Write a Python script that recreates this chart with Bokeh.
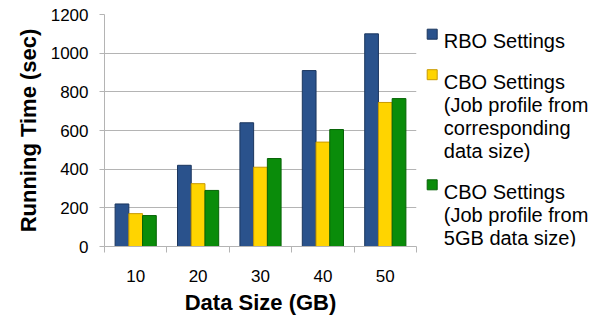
from bokeh.plotting import figure
from bokeh.models import ColumnDataSource, Range1d, FixedTicker
from bokeh.layouts import row
from bokeh.transform import dodge
from bokeh.core.properties import value
from bokeh.embed import file_html
from bokeh.resources import INLINE

# ---- data ----
categories = ["10", "20", "30", "40", "50"]
rbo = [220, 420, 640, 910, 1100]
cbo_corr = [170, 325, 410, 540, 745]
cbo_5gb = [160, 290, 455, 605, 765]
y_ticks = [0, 200, 400, 600, 800, 1000, 1200]
series_names = [
    "RBO Settings",
    "CBO Settings\n(Job profile from\ncorresponding\ndata size)",
    "CBO Settings\n(Job profile from\n5GB data size)",
]
x_title = "Data Size (GB)"
y_title = "Running Time (sec)"

# ---- styles ----
FONT = "Liberation Sans"
fills = ["#2a528c", "#ffd400", "#0a8c0a"]
edges = ["#1b365e", "#c99a00", "#066306"]
GRID = "#b4b4b4"
BAR_W = 0.22

W_TOTAL, H_TOTAL = 615, 319
CHART_W = 418
TOP, BOTTOM = 14, 73

centers = [i + 0.5 for i in range(len(categories))]
bounds = [float(i) for i in range(len(categories) + 1)]

src = ColumnDataSource(dict(x=centers, rbo=rbo, cc=cbo_corr, c5=cbo_5gb))

p = figure(width=CHART_W, height=H_TOTAL, output_backend="svg", toolbar_location=None,
           x_range=Range1d(0, len(categories)), y_range=Range1d(y_ticks[0], y_ticks[-1]),
           min_border_left=104, min_border_right=2, min_border_top=TOP, min_border_bottom=BOTTOM)

for col, off, fc, ec in zip(["rbo", "cc", "c5"], [-BAR_W, 0.0, BAR_W], fills, edges):
    p.vbar(x=dodge("x", off, range=p.x_range), top=col, bottom=0, width=BAR_W,
           source=src, fill_color=fc, line_color=ec, line_width=1)

p.outline_line_color = None
p.xgrid.grid_line_color = None
p.ygrid.grid_line_color = GRID
p.ygrid.grid_line_width = 1

# x axis
xa = p.xaxis[0]
xa.ticker = FixedTicker(ticks=centers, minor_ticks=bounds)
xa.major_label_overrides = {c: lab for c, lab in zip(centers, categories)}
xa.major_tick_line_color = None
xa.major_tick_out = 0
xa.major_tick_in = 0
xa.minor_tick_line_color = GRID
xa.minor_tick_out = 6
xa.minor_tick_in = 0
xa.axis_line_color = GRID
xa.major_label_text_font = FONT
xa.major_label_text_font_size = "17px"
xa.major_label_text_color = "black"
xa.major_label_standoff = 17
xa.axis_label = x_title
xa.axis_label_text_font = FONT
xa.axis_label_text_font_style = "bold"
xa.axis_label_text_font_size = "22px"
xa.axis_label_text_color = "black"
xa.axis_label_standoff = 5

# y axis
ya = p.yaxis[0]
ya.ticker = FixedTicker(ticks=y_ticks)
ya.major_tick_line_color = GRID
ya.major_tick_out = 5
ya.major_tick_in = 0
ya.minor_tick_line_color = None
ya.axis_line_color = GRID
ya.major_label_text_font = FONT
ya.major_label_text_font_size = "17px"
ya.major_label_text_color = "black"
ya.major_label_standoff = 11
ya.axis_label = y_title
ya.axis_label_text_font = FONT
ya.axis_label_text_font_style = "bold"
ya.axis_label_text_font_size = "22px"
ya.axis_label_text_color = "black"
ya.axis_label_standoff = 7

# ---- legend panel (its frame is aligned with the chart frame; data units = page pixels) ----
LW = W_TOTAL - CHART_W
lg = figure(width=LW, height=H_TOTAL, output_backend="svg", toolbar_location=None,
            x_range=Range1d(CHART_W, W_TOTAL), y_range=Range1d(H_TOTAL - BOTTOM, TOP),
            min_border_left=0, min_border_right=0, min_border_top=TOP, min_border_bottom=BOTTOM,
            x_axis_type=None, y_axis_type=None)
lg.outline_line_color = None
lg.grid.grid_line_color = None

first_base = 40.7
line_h = 23.2
entry_gap = 17.3
marker_x, text_x = 431.7, 443.3
tx, ty, tt = [], [], []
mx, my, mc, me = [], [], [], []
y = first_base
for name, fc, ec in zip(series_names, fills, edges):
    lines = name.split("\n")
    mx.append(marker_x)
    my.append(y - 7)
    mc.append(fc)
    me.append(ec)
    for ln in lines:
        tx.append(text_x)
        ty.append(y)
        tt.append(ln)
        y += line_h
    y += entry_gap

lg.scatter(x=mx, y=my, marker="square", size=10, fill_color=mc, line_color=me)
lg.text(x=tx, y=ty, text=tt, text_font=value(FONT), text_font_size="20px",
        text_baseline="alphabetic", text_align="left", text_color="black")

layout = row(p, lg)
open("out.html", "w").write(file_html(layout, INLINE))
